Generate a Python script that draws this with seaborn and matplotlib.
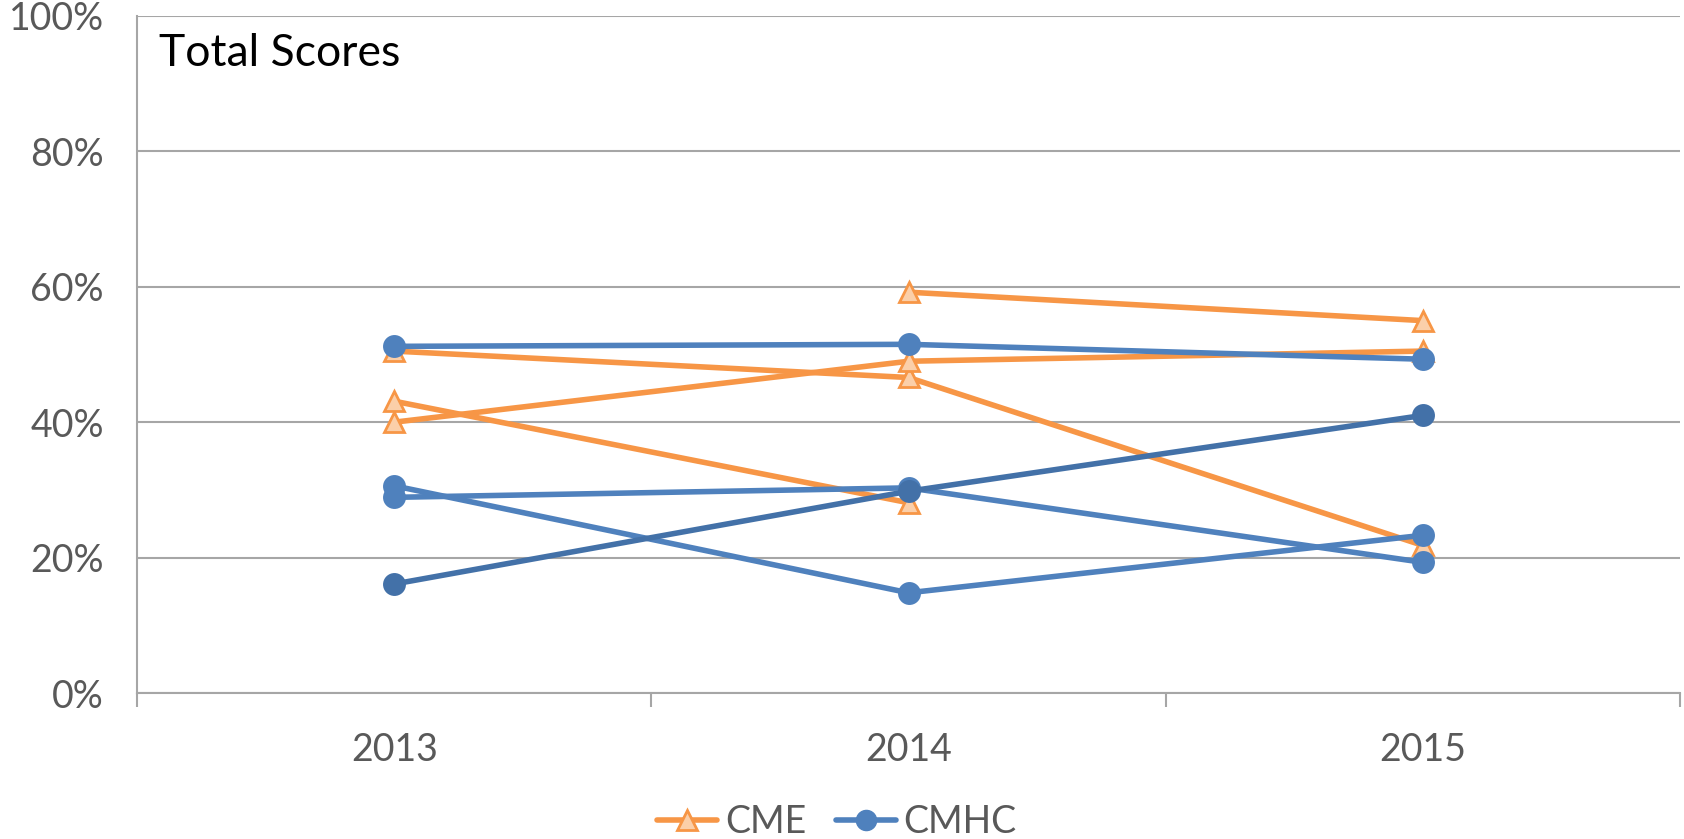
#!/usr/bin/env python3
import numpy as np
import pandas as pd
import seaborn as sns
import matplotlib
matplotlib.use('Agg')
import matplotlib.pyplot as plt
from matplotlib.ticker import PercentFormatter, FixedLocator
from matplotlib.lines import Line2D

years = ['2013', '2014', '2015']

# CME series (percent), NaN = no value that year
cme_a = [np.nan, 59.2, 55.0]
cme_b = [50.5, 46.6, 21.8]
cme_c = [40.0, 49.0, 50.5]
cme_d = [43.1, 28.1, np.nan]

# CMHC series (percent)
cmhc_e = [51.2, 51.5, 49.3]
cmhc_f = [30.6, 14.8, 23.3]
cmhc_g = [28.9, 30.3, 19.3]
cmhc_h = [16.1, 29.8, 41.0]

orange = '#F79646'
peach = '#FBCFA9'
blue = '#4F81BD'
dark_blue = '#4371A8'
grey_txt = '#595959'
grid_c = '#A6A6A6'

sns.set_style('white')
plt.rcParams['font.family'] = ['Lato', 'DejaVu Sans']

fig = plt.figure(figsize=(16.84, 8.39), dpi=100)
ax = fig.add_axes([0.0814, 0.174, 0.9162, 0.807])

def draw(vals, color, marker, mfc, ms):
    df = pd.DataFrame({'pos': np.arange(len(years)), 'value': vals}).dropna()
    sns.lineplot(data=df, x='pos', y='value', ax=ax, color=color, lw=4,
                 marker=marker, markersize=ms, markerfacecolor=mfc,
                 markeredgecolor=color, markeredgewidth=2, zorder=3)

for s in [cme_a, cme_b, cme_c, cme_d]:
    draw(s, orange, '^', peach, 15)
for s in [cmhc_e, cmhc_f, cmhc_g]:
    draw(s, blue, 'o', blue, 14.5)
draw(cmhc_h, dark_blue, 'o', dark_blue, 14.5)

ax.set_xlim(-0.5, len(years) - 0.5)
ax.set_ylim(0, 100)
ax.set_yticks([0, 20, 40, 60, 80, 100])
ax.yaxis.set_major_formatter(PercentFormatter(100, decimals=0))
ax.set_xticks(np.arange(len(years)))
ax.set_xticklabels(years)
ax.xaxis.set_minor_locator(FixedLocator(np.arange(len(years) + 1) - 0.5))
ax.tick_params(axis='x', which='major', length=0, pad=28, labelsize=27, labelcolor=grey_txt)
ax.tick_params(axis='x', which='minor', length=10, width=1.5, color=grid_c, direction='out', bottom=True)
ax.tick_params(axis='y', length=0, pad=24, labelsize=27, labelcolor=grey_txt)
ax.set_xlabel('')
ax.set_ylabel('')
ax.grid(axis='y', color=grid_c, lw=1.5)
ax.set_axisbelow(True)
for side in ['top', 'right']:
    ax.spines[side].set_visible(False)
for side in ['left', 'bottom']:
    ax.spines[side].set_color(grid_c)
    ax.spines[side].set_linewidth(1.5)

ax.text(0.014, 0.975, 'Total Scores', transform=ax.transAxes, fontsize=32,
        color='black', va='top', ha='left')

handles = [
    Line2D([], [], color=orange, lw=4, marker='^', markersize=15,
           markerfacecolor=peach, markeredgecolor=orange, markeredgewidth=2),
    Line2D([], [], color=blue, lw=4, marker='o', markersize=14.5,
           markerfacecolor=blue, markeredgecolor=blue),
]
fig.legend(handles, ['CME', 'CMHC'], loc='center', bbox_to_anchor=(0.497, 0.02),
           ncol=2, frameon=False, fontsize=27, handlelength=1.6, handletextpad=0.2,
           columnspacing=0.8, labelcolor=grey_txt)

plt.savefig('out.png', dpi=100)
